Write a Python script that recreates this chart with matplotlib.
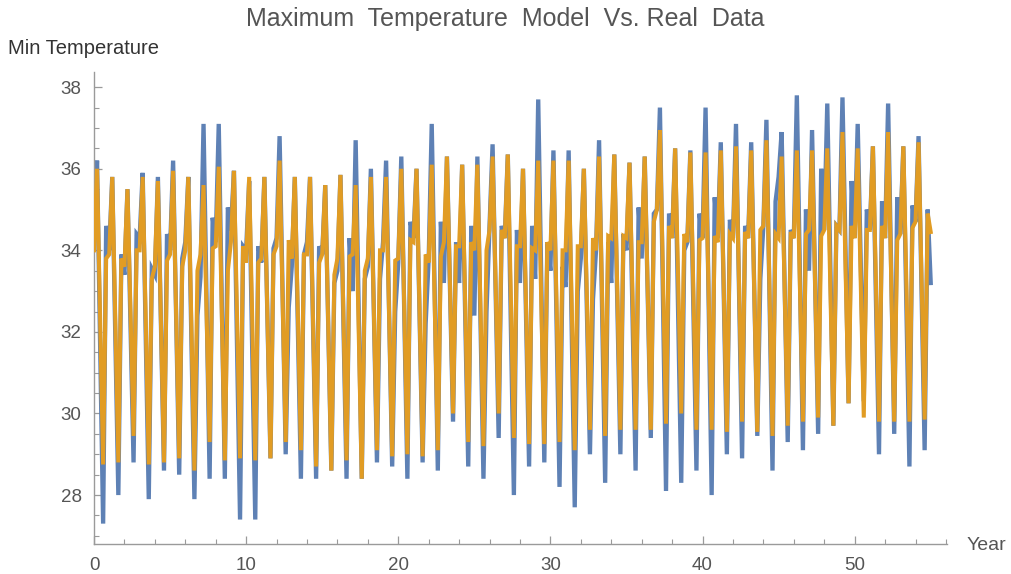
import numpy as np
import matplotlib
matplotlib.use("Agg")
import matplotlib.pyplot as plt
from matplotlib.ticker import MultipleLocator

# Five readings per year (x = year, year+0.2, ..., year+0.8), 55 years, plus one closing value.
model_start = [34.0, 33.9, 33.6, 34.0, 33.6, 33.9, 34.0, 33.9, 34.1, 34.2,
               33.7, 33.8, 34.1, 33.8, 33.9, 33.9, 33.8, 33.9, 33.8, 34.0,
               33.8, 34.2, 33.7, 34.2, 34.1, 34.0, 34.5, 34.3, 34.1, 34.0,
               34.0, 34.0, 34.1, 34.0, 34.3, 34.3, 34.2, 35.0, 34.3, 34.2,
               34.3, 34.2, 34.3, 34.3, 34.6, 34.3, 34.3, 34.5, 34.5, 34.5,
               34.3, 34.5, 34.3, 34.4, 34.7]
model_peak = [36.0, 35.8, 35.5, 35.8, 35.7, 35.95, 35.8, 35.6, 36.05, 35.95,
              35.8, 35.8, 36.2, 35.8, 35.8, 35.6, 35.85, 35.6, 35.8, 35.8,
              36.0, 36.0, 36.1, 36.3, 36.1, 36.1, 36.3, 36.35, 36.0, 36.2,
              36.2, 36.2, 36.0, 36.3, 36.35, 36.15, 36.3, 36.95, 36.5, 36.4,
              36.4, 36.45, 36.55, 36.45, 36.7, 36.3, 36.45, 36.45, 36.5, 36.9,
              36.5, 36.55, 36.9, 36.55, 36.65]
model_fall = [32.4, 32.3, 32.5, 32.3, 32.25, 32.4, 32.2, 32.45, 32.45, 32.4,
              32.3, 32.35, 32.75, 32.45, 32.25, 32.1, 32.35, 32.0, 32.45, 32.4,
              32.5, 32.5, 32.6, 33.15, 32.7, 32.65, 33.15, 32.9, 32.6, 32.7,
              32.75, 32.65, 32.8, 32.9, 33.0, 32.9, 32.95, 33.35, 33.25, 33.0,
              33.0, 33.0, 33.2, 33.0, 33.1, 33.0, 33.1, 33.2, 33.1, 33.6,
              33.2, 33.2, 33.35, 33.2, 33.25]
model_low = [28.75, 28.8, 29.45, 28.75, 28.8, 28.9, 28.6, 29.3, 28.85, 28.9,
             28.85, 28.9, 29.3, 29.1, 28.7, 28.6, 28.85, 28.4, 29.1, 28.95,
             29.0, 28.95, 29.1, 30.0, 29.3, 29.2, 30.0, 29.4, 29.25, 29.25,
             29.3, 29.1, 29.6, 29.45, 29.6, 29.6, 29.6, 29.75, 30.0, 29.6,
             29.6, 29.55, 29.8, 29.55, 29.45, 29.7, 29.8, 29.9, 29.7, 30.25,
             29.9, 29.8, 29.8, 29.8, 29.85]
model_rise = [33.8, 33.8, 34.0, 33.3, 33.75, 33.6, 33.5, 34.05, 33.5, 34.1,
              33.7, 33.9, 34.25, 33.9, 33.7, 33.4, 33.85, 33.5, 34.0, 33.75,
              34.25, 33.9, 33.85, 34.1, 34.2, 34.0, 34.5, 34.1, 34.05, 34.2,
              34.0, 34.1, 34.3, 34.35, 34.35, 34.2, 34.7, 34.6, 34.4, 34.25,
              34.35, 34.4, 34.45, 34.5, 34.4, 34.45, 34.4, 34.35, 34.6, 34.6,
              34.5, 34.6, 34.25, 34.55, 34.9]
model_end = 34.45

real_start = [34.5, 34.0, 33.4, 34.3, 33.4, 34.0, 34.2, 33.35, 34.2, 34.5,
              34.0, 33.7, 34.3, 33.6, 34.2, 33.9, 33.5, 33.0, 33.6, 34.2,
              33.7, 34.3, 33.8, 33.2, 33.2, 32.4, 34.6, 34.3, 33.2, 33.3,
              33.5, 33.1, 33.8, 34.0, 33.2, 34.0, 33.8, 35.0, 34.3, 34.2,
              34.3, 34.3, 34.3, 34.3, 34.6, 35.8, 34.3, 33.5, 34.5, 34.5,
              34.3, 34.5, 34.3, 34.4, 34.7]
real_peak = [36.2, 35.8, 35.5, 35.9, 35.8, 36.2, 35.8, 37.1, 37.1, 35.95,
             35.7, 35.8, 36.8, 35.8, 35.8, 35.6, 35.85, 36.7, 36.0, 36.2,
             36.3, 36.0, 37.1, 36.3, 36.1, 36.3, 36.6, 36.35, 36.0, 37.7,
             36.45, 36.45, 36.0, 36.7, 36.35, 36.15, 36.3, 37.5, 36.5, 36.45,
             37.5, 36.65, 37.1, 36.65, 37.2, 36.9, 37.8, 36.95, 37.6, 37.75,
             37.1, 36.55, 37.6, 36.55, 36.8]
real_fall = [31.75, 31.9, 32.15, 31.9, 32.2, 32.35, 31.85, 32.75, 32.75, 31.7,
             31.55, 32.35, 32.9, 32.1, 32.1, 32.1, 32.1, 32.55, 32.4, 32.45,
             32.35, 32.4, 32.85, 33.05, 32.4, 32.35, 33.0, 32.2, 32.35, 33.25,
             32.3, 32.1, 32.5, 32.5, 32.7, 32.4, 32.85, 32.8, 32.4, 32.5,
             32.75, 32.8, 33.0, 33.05, 32.9, 33.1, 33.45, 33.2, 33.65, 34.0,
             33.7, 32.8, 33.55, 32.6, 32.95]
real_low = [27.3, 28.0, 28.8, 27.9, 28.6, 28.5, 27.9, 28.4, 28.4, 27.4,
            27.4, 28.9, 29.0, 28.4, 28.4, 28.6, 28.4, 28.4, 28.8, 28.7,
            28.4, 28.8, 28.6, 29.8, 28.7, 28.4, 29.4, 28.0, 28.7, 28.8,
            28.2, 27.7, 29.0, 28.3, 29.0, 28.6, 29.4, 28.1, 28.3, 28.6,
            28.0, 29.0, 28.9, 29.45, 28.6, 29.3, 29.1, 29.5, 29.7, 30.25,
            30.3, 29.0, 29.5, 28.7, 29.1]
real_rise = [34.6, 33.9, 34.4, 33.55, 34.4, 33.8, 32.4, 34.8, 35.05, 34.1,
             34.1, 34.05, 32.6, 33.9, 34.1, 33.2, 34.3, 33.3, 33.3, 32.5,
             34.7, 32.2, 34.7, 34.2, 34.6, 32.5, 34.6, 34.5, 34.6, 34.2,
             33.6, 33.0, 32.8, 34.2, 34.4, 35.05, 34.9, 34.9, 34.0, 34.9,
             35.3, 34.75, 34.6, 33.3, 35.2, 34.5, 35.0, 36.0, 34.6, 35.7,
             35.0, 35.2, 35.3, 35.1, 35.0]
real_end = 33.2

x_ticks = [0, 10, 20, 30, 40, 50]
y_ticks = [28, 30, 32, 34, 36, 38]


def weave(start, peak, fall, low, rise, end):
    vals = np.column_stack([start, peak, fall, low, rise]).ravel()
    return np.append(vals, end)


model = weave(model_start, model_peak, model_fall, model_low, model_rise, model_end)
real = weave(real_start, real_peak, real_fall, real_low, real_rise, real_end)
years = np.arange(len(real)) / 5.0

blue = "#5E81B5"
orange = "#E19C24"
axis_gray = "#9a9a9a"
text_gray = "#555555"

plt.rcParams["font.family"] = ["Liberation Sans", "DejaVu Sans"]

fig = plt.figure(figsize=(10.11, 5.74), dpi=100)
ax = fig.add_axes([94 / 1011, 30 / 574, 853 / 1011, 472.3 / 574])

ax.plot(years, real, color=blue, lw=3.1, solid_joinstyle="miter", zorder=2)
ax.plot(years, model, color=orange, lw=2.9, solid_joinstyle="miter", zorder=3)

ax.set_xlim(0, 56.07)
ax.set_ylim(26.80, 38.38)

ax.set_xticks(x_ticks)
ax.set_yticks(y_ticks)
ax.xaxis.set_minor_locator(MultipleLocator(2))
ax.yaxis.set_minor_locator(MultipleLocator(0.5))

for side in ("top", "right"):
    ax.spines[side].set_visible(False)
for side in ("left", "bottom"):
    ax.spines[side].set_color(axis_gray)
    ax.spines[side].set_linewidth(1.0)

ax.tick_params(which="major", direction="in", length=6, width=0.9,
               color=axis_gray, labelcolor=text_gray, labelsize=13.5)
ax.tick_params(axis="y", which="major", pad=9)
ax.tick_params(axis="x", which="major", pad=9)
ax.tick_params(which="minor", direction="in", length=3.5, width=0.8, color=axis_gray)

fig.text(0.5, 1 - 19 / 574, "Maximum  Temperature  Model  Vs. Real  Data",
         ha="center", va="center", fontsize=18, color=text_gray)
fig.text(8 / 1011, 1 - 48 / 574, "Min Temperature", ha="left", va="center",
         fontsize=14.5, color="#333333")
fig.text(967 / 1011, 1 - 545 / 574, "Year", ha="left", va="center",
         fontsize=14, color=text_gray)

fig.savefig("out.png", dpi=100)
